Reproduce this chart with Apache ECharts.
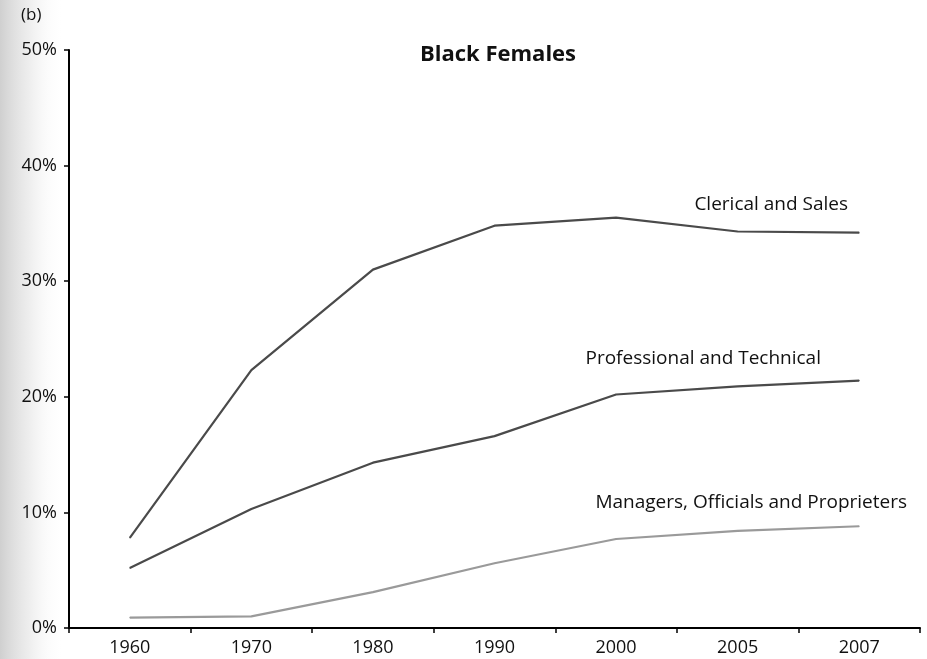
<!DOCTYPE html>
<html>
<head>
<meta charset="utf-8">
<script src="https://cdn.jsdelivr.net/npm/echarts@6/dist/echarts.min.js"></script>
<style>
  html, body { margin: 0; padding: 0; background: #fff; }
  #chart { width: 927px; height: 659px; }
</style>
</head>
<body>
<div id="chart"></div>
<script>
// years on the x axis (equally spaced categories)
const years = ['1960', '1970', '1980', '1990', '2000', '2005', '2007'];
// shares of employed black women, %
const clericalSales = [7.8, 22.3, 31.0, 34.8, 35.5, 34.3, 34.2];
const profTechnical = [5.2, 10.3, 14.3, 16.6, 20.2, 20.9, 21.4];
const managersOfficials = [0.9, 1.0, 3.1, 5.6, 7.7, 8.4, 8.8];
const seriesNames = ['Clerical and Sales', 'Professional and Technical', 'Managers, Officials and Proprieters'];
const yTicks = [0, 10, 20, 30, 40, 50];

const font = '"Open Sans", "Noto Sans", sans-serif';

// put the series name as a label near its last point
function withEndLabel(values, name, offset) {
  return values.map(function (v, i) {
    if (i !== values.length - 1) return v;
    return {
      value: v,
      label: {
        show: true,
        position: 'top',
        offset: offset,
        formatter: name,
        color: '#111',
        fontSize: 19,
        fontFamily: font
      }
    };
  });
}

let option = {
  animation: false,
  backgroundColor: '#fff',
  title: {
    text: 'Black Females',
    left: 493,
    top: 39,
    textAlign: 'center',
    textStyle: { fontSize: 22, fontWeight: 'bold', color: '#111', fontFamily: font }
  },
  graphic: [
    {
      // scanned page edge shading
      type: 'rect',
      left: 0, top: 0, z: -1,
      shape: { width: 64, height: 659 },
      style: {
        fill: new echarts.graphic.LinearGradient(0, 0, 1, 0, [
          { offset: 0, color: 'rgba(150,150,150,0.45)' },
          { offset: 0.45, color: 'rgba(185,185,185,0.25)' },
          { offset: 1, color: 'rgba(255,255,255,0)' }
        ])
      }
    },
    {
      type: 'text',
      left: 21, top: 7,
      style: { text: '(b)', fontSize: 17, fill: '#111', fontFamily: font }
    }
  ],
  grid: { left: 69, right: 7, top: 50, bottom: 31, containLabel: false },
  xAxis: {
    type: 'category',
    data: years,
    boundaryGap: true,
    axisLine: { lineStyle: { color: '#000', width: 2 } },
    axisTick: { show: true, length: 5, lineStyle: { color: '#000', width: 1.5 } },
    axisLabel: { color: '#111', fontSize: 18, fontFamily: font, margin: 11 }
  },
  yAxis: {
    type: 'value',
    min: yTicks[0],
    max: yTicks[yTicks.length - 1],
    interval: 10,
    axisLine: { show: true, lineStyle: { color: '#000', width: 2 } },
    axisTick: { show: true, length: 5, lineStyle: { color: '#000', width: 1.5 } },
    axisLabel: { color: '#111', fontSize: 18, fontFamily: font, margin: 12, formatter: '{value}%' },
    splitLine: { show: false }
  },
  series: [
    {
      name: seriesNames[0],
      type: 'line',
      data: withEndLabel(clericalSales, seriesNames[0], [-88, -13]),
      symbol: 'circle',
      symbolSize: 1,
      itemStyle: { color: '#4a4a4a' },
      lineStyle: { color: '#4a4a4a', width: 2.2 }
    },
    {
      name: seriesNames[1],
      type: 'line',
      data: withEndLabel(profTechnical, seriesNames[1], [-156, -7]),
      symbol: 'circle',
      symbolSize: 1,
      itemStyle: { color: '#4a4a4a' },
      lineStyle: { color: '#4a4a4a', width: 2.2 }
    },
    {
      name: seriesNames[2],
      type: 'line',
      data: withEndLabel(managersOfficials, seriesNames[2], [-108, -9]),
      symbol: 'circle',
      symbolSize: 1,
      itemStyle: { color: '#9a9a9a' },
      lineStyle: { color: '#9a9a9a', width: 2.2 }
    }
  ]
};

let chartDom = document.getElementById('chart');
let myChart = echarts.init(chartDom);
myChart.setOption(option);
window.onresize = function () {
  myChart.resize();
};
</script>
</body>
</html>
